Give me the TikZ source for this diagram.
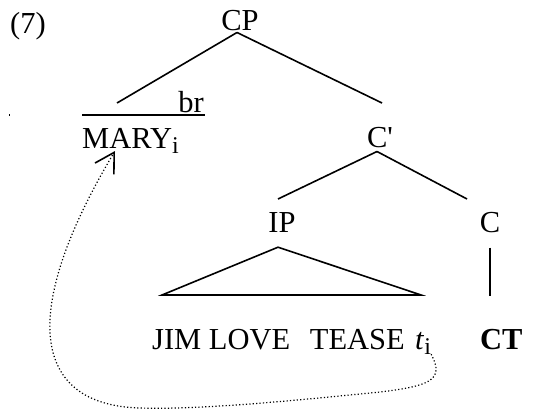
\documentclass[tikz,border=0pt]{standalone}
\usepackage{fontspec}
\setmainfont{Liberation Serif}
\newfontfamily\plainrm{Liberation Serif}[Ligatures=TeXOff]
\usetikzlibrary{arrows.meta,calc}

% index subscript
\newcommand\idx{\raisebox{-5pt}{\fontsize{24}{24}\selectfont i}}

\tikzset{
  lbl/.style={inner sep=0pt, font=\fontsize{30.5}{36}\selectfont},
  branch/.style={line width=1.6pt},
  movement/.style={line width=1.2pt, dash pattern=on 1.2pt off 2.2pt,
    -{Straight Barb[length=19pt,width=22pt,line width=1.6pt]}},
}

\begin{document}
\begin{tikzpicture}[x=1pt,y=-1pt]
\useasboundingbox (0,0) rectangle (534,409);

% labels
\node[lbl, anchor=base west] (ex)  at (10,34)   {(7)};
\node[lbl, anchor=base]      (cp)  at (240,31)  {CP};
\node[lbl, anchor=base east] (br)  at (204,112) {br};
\node[lbl, anchor=base west] (mary) at (82,148) {MARY\idx};
\node[lbl, anchor=base]      (cbar) at (380,147) {C{\plainrm '}};
\node[lbl, anchor=base]      (ip)  at (282,232) {IP};
\node[lbl, anchor=base]      (c)   at (490,232) {C};
\node[lbl, anchor=base west] (str) at (152,349) {JIM LOVE\hspace{12pt} TEASE};
\node[lbl, anchor=base west] (ti)  at (415,349) {\textit{t}\idx};
\node[lbl, anchor=base west] (ct)  at (480,349) {\textbf{CT}};

% branch end points
\coordinate (specend) at (117,103);
\coordinate (cbarend) at (382,103);
\coordinate (ipend)   at (278,199);
\coordinate (cend)    at (467,199);
\coordinate (ol1) at (82,115);
\coordinate (ol2) at (205,115);

% CP
\draw[branch] ($(cp.south)+(-3,1)$) -- (specend);
\draw[branch] ($(cp.south)+(-3,1)$) -- (cbarend);
% bar over the specifier
\draw[branch] (ol1) -- (ol2);
% C'
\draw[branch] ($(cbar.south)+(-3,4)$) -- (ipend);
\draw[branch] ($(cbar.south)+(-3,4)$) -- (cend);
% IP triangle
\draw[branch] ($(ip.south)+(-4,15)$) -- (162,295) -- (421,295) -- cycle;
% C head
\draw[branch] ($(c.south)+(0,15)$) -- ($(c.south)+(0,63)$);

% stray mark
\draw[line width=1pt] (9,114) -- (9,116);

% movement of the topic
\draw[movement] (ti.south east)
  .. controls (445,380) and (430,386) .. (380,392)
  .. controls (300,400) and (200,410) .. (140,408)
  .. controls (30,405) and (20,310) .. ($(mary.base west)+(33,3)$);
\end{tikzpicture}
\end{document}
